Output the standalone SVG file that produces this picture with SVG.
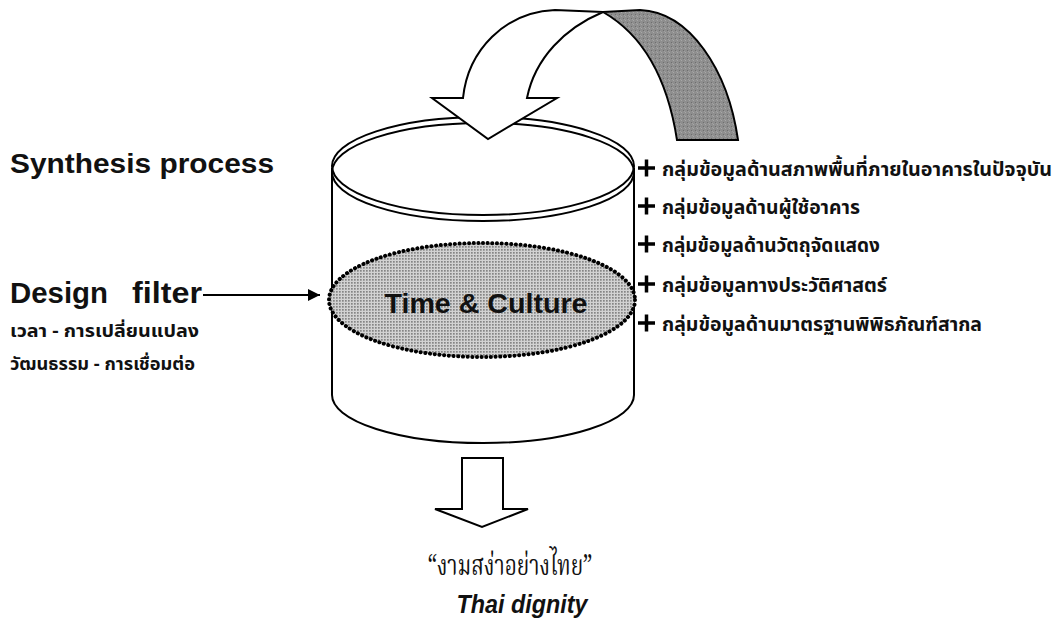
<svg xmlns="http://www.w3.org/2000/svg" width="1063" height="638" viewBox="0 0 1063 638">
<style>
.ln{fill:none;stroke:#000;stroke-width:2}
.wf{fill:#fff;stroke:#000;stroke-width:2;stroke-linejoin:miter}
.en{font-family:"Liberation Sans",Arial,sans-serif;font-weight:bold;fill:#111}
.th{font-family:"Noto Sans Thai","Noto Sans","DejaVu Sans",sans-serif;font-weight:bold;fill:#111}
.thr{font-family:"Noto Serif Thai","Noto Sans Thai","DejaVu Serif",serif;fill:#111}
</style>
<defs>
<pattern id="dots" width="3" height="3" patternUnits="userSpaceOnUse">
<rect width="3" height="3" fill="#d2d2d2"/>
<rect width="1.7" height="1.7" fill="#858585"/>
</pattern>
<pattern id="grain" width="4" height="4" patternUnits="userSpaceOnUse">
<rect width="4" height="4" fill="#8e8e8e"/>
<rect x="1" y="0" width="1" height="1" fill="#a8a8a8"/>
<rect x="3" y="2" width="1" height="1" fill="#6e6e6e"/>
<rect x="0" y="3" width="1" height="1" fill="#a0a0a0"/>
</pattern>
<marker id="ah" viewBox="0 0 10 10" refX="10" refY="5" markerWidth="16" markerHeight="12" markerUnits="userSpaceOnUse" orient="auto">
<path d="M0,0 L10,5 L0,10 Z" fill="#000"/>
</marker>
</defs>
<rect width="1063" height="638" fill="#fff"/>

<g id="cylinder">
<path class="ln" d="M332,168 L332,395 A151,48 0 0 0 634,395 L634,168"/>
<ellipse class="ln" cx="483" cy="166" rx="151" ry="49"/>
<ellipse class="ln" cx="483" cy="172" rx="151" ry="49" stroke-width="1.8"/>
</g>

<g id="curved-arrow">
<path d="M603,12 L640,10 C690,12 728,70 738,140 L677,140 C668,82 645,36 603,12 Z" fill="url(#grain)" stroke="#000" stroke-width="2"/>
<path class="wf" d="M432,98 L463,98 C468,50 505,12 555,10 L603,12 C565,28 535,58 527,98 L557,98 L488,139 Z"/>
</g>

<g id="filter">
<ellipse cx="482" cy="300" rx="153" ry="57" fill="url(#dots)" stroke="#000" stroke-width="4" stroke-dasharray="0.1 4.6" stroke-linecap="round"/>
<text class="en" x="486" y="313" font-size="28" text-anchor="middle" textLength="203" lengthAdjust="spacingAndGlyphs">Time &amp; Culture</text>
</g>

<g id="labels-left">
<text class="en" x="10" y="173" font-size="28" textLength="264" lengthAdjust="spacingAndGlyphs">Synthesis process</text>
<text class="en" x="10" y="303" font-size="29" textLength="98" lengthAdjust="spacingAndGlyphs">Design</text>
<text class="en" x="132" y="303" font-size="29" textLength="70" lengthAdjust="spacingAndGlyphs">filter</text>
<text class="th" x="10" y="337" font-size="17" textLength="189" lengthAdjust="spacingAndGlyphs">เวลา - การเปลี่ยนแปลง</text>
<text class="th" x="10" y="370" font-size="17" textLength="185" lengthAdjust="spacingAndGlyphs">วัฒนธรรม - การเชื่อมต่อ</text>
</g>

<g id="data-list">
<g stroke="#000" stroke-width="3.5">
<path d="M638,168 H655 M646.5,159.5 V176.5"/>
<path d="M638,206 H655 M646.5,197.5 V214.5"/>
<path d="M638,244 H655 M646.5,235.5 V252.5"/>
<path d="M638,284 H655 M646.5,275.5 V292.5"/>
<path d="M638,323 H655 M646.5,314.5 V331.5"/>
</g>
<text class="th" x="662" y="176" font-size="20" textLength="390" lengthAdjust="spacingAndGlyphs">กลุ่มข้อมูลด้านสภาพพื้นที่ภายในอาคารในปัจจุบัน</text>
<text class="th" x="662" y="214" font-size="20" textLength="198" lengthAdjust="spacingAndGlyphs">กลุ่มข้อมูลด้านผู้ใช้อาคาร</text>
<text class="th" x="662" y="252" font-size="20" textLength="218" lengthAdjust="spacingAndGlyphs">กลุ่มข้อมูลด้านวัตถุจัดแสดง</text>
<text class="th" x="662" y="292" font-size="20" textLength="225" lengthAdjust="spacingAndGlyphs">กลุ่มข้อมูลทางประวัติศาสตร์</text>
<text class="th" x="662" y="331" font-size="20" textLength="320" lengthAdjust="spacingAndGlyphs">กลุ่มข้อมูลด้านมาตรฐานพิพิธภัณฑ์สากล</text>
</g>

<g id="output">
<path class="wf" d="M462,458 L503,458 L503,509 L528,509 L482,527 L435,509 L462,509 Z"/>
<text class="thr" x="510" y="575" font-size="29" text-anchor="middle" textLength="165" lengthAdjust="spacingAndGlyphs">“งามสง่าอย่างไทย”</text>
<text class="en" x="522" y="613" font-size="26" font-style="italic" text-anchor="middle" textLength="131" lengthAdjust="spacingAndGlyphs">Thai dignity</text>
</g>

<g id="connectors">
<line x1="203" y1="295" x2="320" y2="295" stroke="#000" stroke-width="2" marker-end="url(#ah)"/>
</g>
</svg>
